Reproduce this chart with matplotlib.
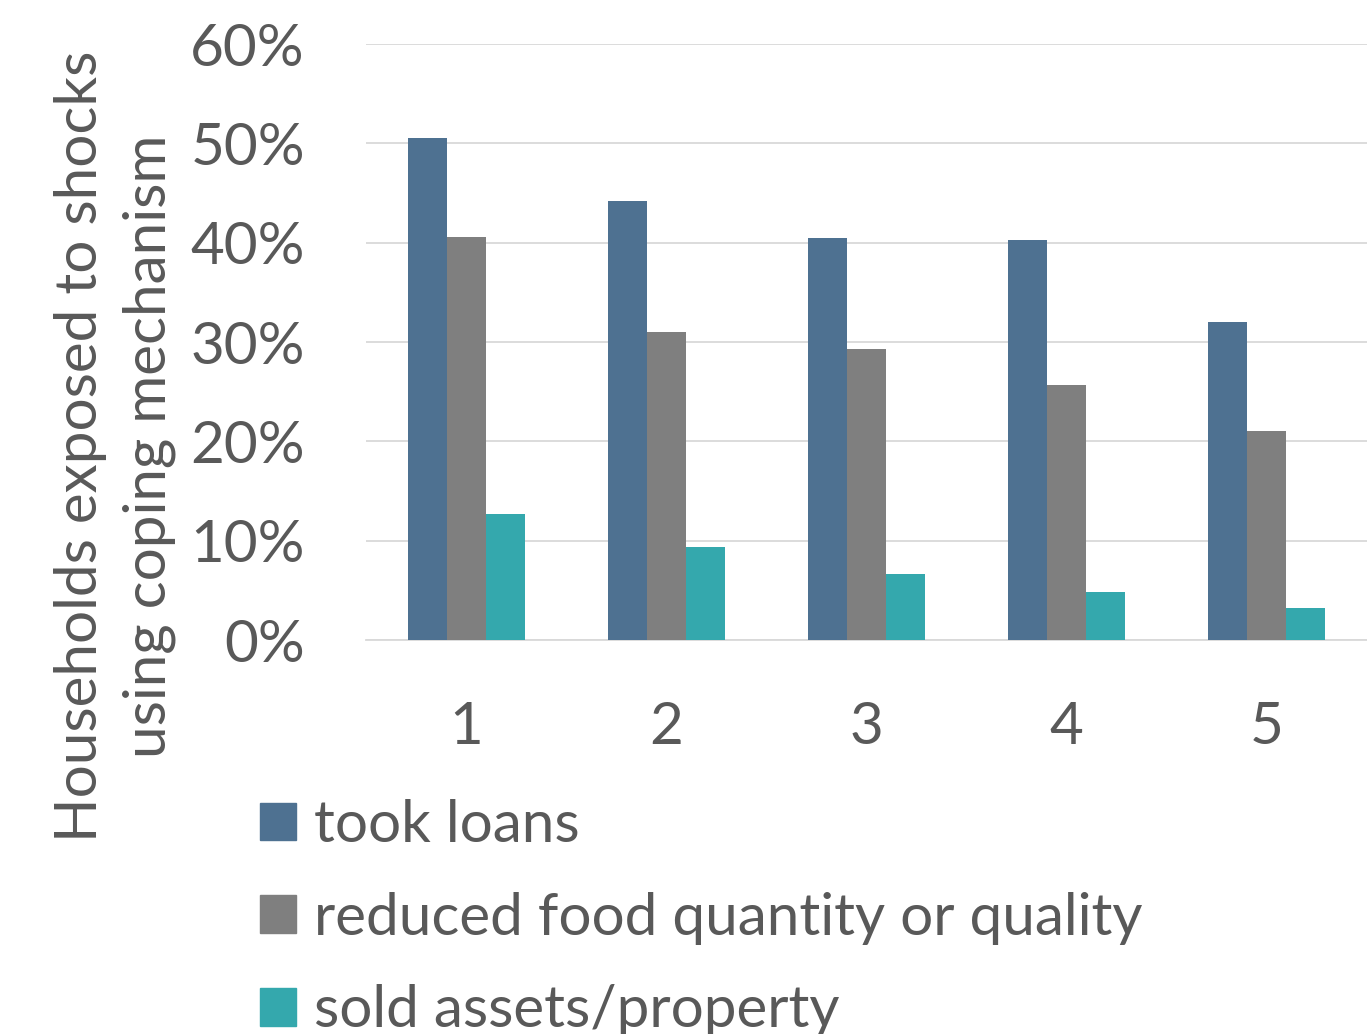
import matplotlib
matplotlib.use("Agg")
import matplotlib.pyplot as plt
import numpy as np
from matplotlib.patches import Patch

categories = ["1", "2", "3", "4", "5"]
series_names = ["took loans", "reduced food quantity or quality", "sold assets/property"]
took_loans = [50.5, 44.2, 40.5, 40.3, 32.0]
reduced_food = [40.6, 31.0, 29.3, 25.7, 21.0]
sold_assets = [12.7, 9.4, 6.6, 4.8, 3.2]
yticks = [0, 10, 20, 30, 40, 50, 60]
ytick_labels = ["0%", "10%", "20%", "30%", "40%", "50%", "60%"]
colors = ["#4E7191", "#7F7F7F", "#34A8AD"]

plt.rcParams['font.family'] = ['Lato', 'DejaVu Sans']
txt = "#595959"
FS = 42

fig = plt.figure(figsize=(13.67, 10.34), dpi=100)
ax = fig.add_axes([366/1367, 1-640/1034, 1-366/1367, (640-44)/1034])

x = np.arange(len(categories))
w = 0.195
for i, (vals, c) in enumerate(zip([took_loans, reduced_food, sold_assets], colors)):
    ax.bar(x + (i-1)*w, vals, width=w, color=c, zorder=3)

ax.set_xlim(-0.5, 4.5)
ax.set_ylim(0, 60)
ax.set_yticks(yticks)
ax.set_yticklabels(ytick_labels)
ax.set_xticks(x)
ax.set_xticklabels(categories)
ax.grid(axis='y', color="#D9D9D9", linewidth=1.3, zorder=0)
for s in ['top', 'right', 'left']:
    ax.spines[s].set_visible(False)
ax.spines['bottom'].set_color("#D9D9D9")
ax.spines['bottom'].set_linewidth(1.3)
ax.tick_params(axis='both', length=0, labelsize=FS, colors=txt)
ax.tick_params(axis='y', pad=44)
ax.tick_params(axis='x', pad=44)

fig.text(115/1367, 1-446/1034, "Households exposed to shocks\nusing coping mechanism",
         rotation=90, ha='center', va='center', fontsize=FS, color=txt, linespacing=1.38,
         transform=fig.transFigure)

handles = [Patch(color=c) for c in colors]
leg = fig.legend(handles, series_names, loc='upper left', bbox_to_anchor=(260/1367, 1-799/1034),
                 frameon=False, fontsize=FS, handlelength=0.62, handleheight=0.62,
                 handletextpad=0.31, labelspacing=0.68, borderaxespad=0, borderpad=0)
for t in leg.get_texts():
    t.set_color(txt)

fig.savefig("out.png", dpi=100)
